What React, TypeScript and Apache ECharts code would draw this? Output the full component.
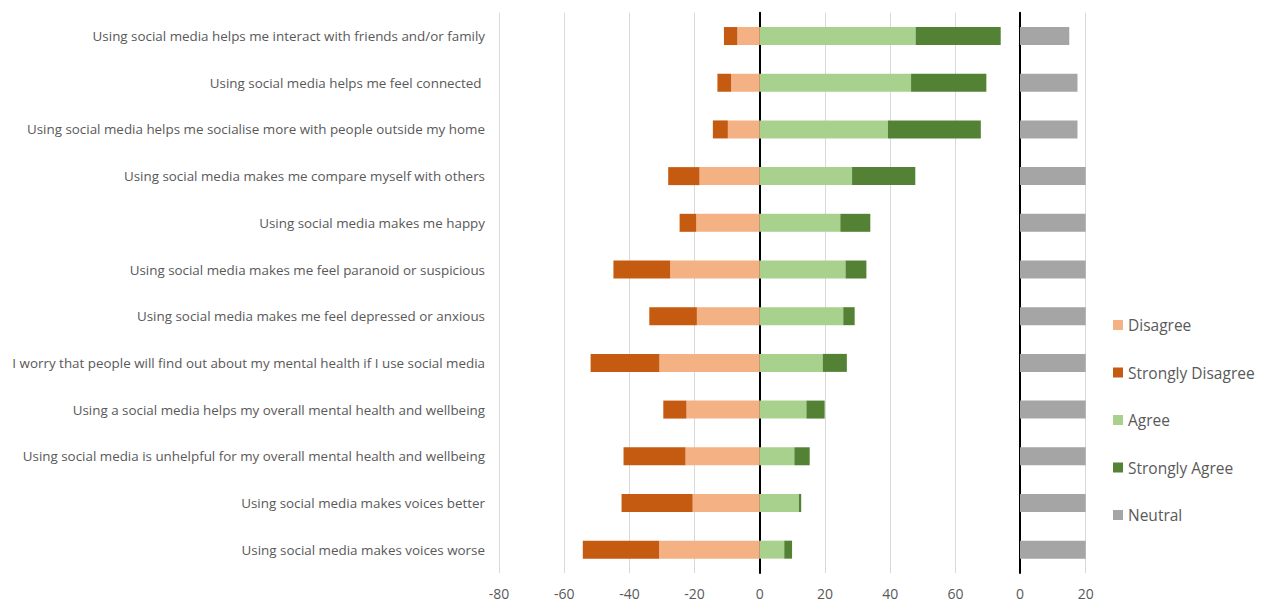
import React, { useEffect, useRef } from "react";
import * as echarts from "echarts";

const categories = [
  "Using social media helps me interact with friends and/or family",
  "Using social media helps me feel connected ",
  "Using social media helps me socialise more with people outside my home",
  "Using social media makes me compare myself with others",
  "Using social media makes me happy",
  "Using social media makes me feel paranoid or suspicious",
  "Using social media makes me feel depressed or anxious",
  "I worry that people will find out about my mental health if I use social media",
  "Using a social media helps my overall mental health and wellbeing",
  "Using social media is unhelpful for my overall mental health and wellbeing",
  "Using social media makes voices better",
  "Using social media makes voices worse",
];

const disagree = [-6.9, -8.8, -9.8, -18.5, -19.5, -27.5, -19.3, -30.8, -22.5, -22.8, -20.6, -30.9];
const stronglyDisagree = [-4.1, -4.2, -4.6, -9.6, -5.1, -17.4, -14.6, -21.1, -7.1, -19.0, -21.8, -23.4];
const agree = [47.8, 46.4, 39.3, 28.3, 24.7, 26.3, 25.6, 19.3, 14.3, 10.6, 12.0, 7.5];
const stronglyAgree = [26.1, 23.1, 28.5, 19.4, 9.2, 6.4, 3.5, 7.4, 5.6, 4.7, 0.7, 2.4];
const neutral = [15, 17.5, 17.5, 20, 20, 20, 20, 20, 20, 20, 20, 20];

const mainTicks = { min: -80, max: 80, interval: 20 };
const neutralTicks = { min: 0, max: 20, interval: 20 };

const COLORS = {
  disagree: "#F4B183",
  stronglyDisagree: "#C55A11",
  agree: "#A9D18E",
  stronglyAgree: "#548235",
  neutral: "#A5A5A5",
};

const FONT = "Open Sans";
const TEXT = "#595959";

export default function App() {
  const ref = useRef<HTMLDivElement>(null);
  useEffect(() => {
    if (!ref.current) return;
    const chart = echarts.init(ref.current, undefined, { renderer: "svg" });
    const gridTop = 12.7;
    const gridBottom = 32;
    const barW = 18;
    chart.setOption({
      animation: false,
      textStyle: { fontFamily: FONT, color: TEXT },
      grid: [
        { left: 499, right: 242.4, top: gridTop, bottom: gridBottom },
        { left: 1020, right: 177.3, top: gridTop, bottom: gridBottom },
      ],
      legend: {
        orient: "vertical",
        left: 1108,
        top: 312,
        itemWidth: 10,
        itemHeight: 10,
        itemGap: 31.5,
        icon: "rect",
        textStyle: { fontFamily: FONT, color: TEXT, fontSize: 15.5 },
        data: ["Disagree", "Strongly Disagree", "Agree", "Strongly Agree", "Neutral"],
      },
      xAxis: [
        {
          type: "value",
          gridIndex: 0,
          ...mainTicks,
          axisLine: { show: false },
          axisTick: { show: false },
          splitLine: { lineStyle: { color: "#D9D9D9", width: 1 } },
          axisLabel: {
            color: TEXT,
            fontSize: 14,
            fontFamily: FONT,
            margin: 13,
            showMaxLabel: false,
          },
        },
        {
          type: "value",
          gridIndex: 1,
          ...neutralTicks,
          axisLine: { show: false },
          axisTick: { show: false },
          splitLine: { lineStyle: { color: "#D9D9D9", width: 1 } },
          axisLabel: { color: TEXT, fontSize: 14, fontFamily: FONT, margin: 13 },
        },
      ],
      yAxis: [
        {
          type: "category",
          gridIndex: 0,
          data: categories,
          inverse: true,
          axisLine: { show: true, onZero: true, lineStyle: { color: "#000", width: 2 } },
          axisTick: { show: false },
          axisLabel: { color: TEXT, fontSize: 13.4, fontFamily: FONT, margin: 14 },
        },
        {
          type: "category",
          gridIndex: 1,
          data: categories,
          inverse: true,
          axisLine: { show: true, onZero: true, lineStyle: { color: "#000", width: 2 } },
          axisTick: { show: false },
          axisLabel: { show: false },
        },
      ],
      series: [
        {
          name: "Disagree",
          type: "bar",
          stack: "likert",
          barWidth: barW,
          xAxisIndex: 0,
          yAxisIndex: 0,
          itemStyle: { color: COLORS.disagree },
          data: disagree,
          z: 1,
        },
        {
          name: "Strongly Disagree",
          type: "bar",
          stack: "likert",
          barWidth: barW,
          xAxisIndex: 0,
          yAxisIndex: 0,
          itemStyle: { color: COLORS.stronglyDisagree },
          data: stronglyDisagree,
          z: 1,
        },
        {
          name: "Agree",
          type: "bar",
          stack: "likert",
          barWidth: barW,
          xAxisIndex: 0,
          yAxisIndex: 0,
          itemStyle: { color: COLORS.agree },
          data: agree,
          z: 1,
        },
        {
          name: "Strongly Agree",
          type: "bar",
          stack: "likert",
          barWidth: barW,
          xAxisIndex: 0,
          yAxisIndex: 0,
          itemStyle: { color: COLORS.stronglyAgree },
          data: stronglyAgree,
          z: 1,
        },
        {
          name: "Neutral",
          type: "bar",
          barWidth: barW,
          xAxisIndex: 1,
          yAxisIndex: 1,
          itemStyle: { color: COLORS.neutral },
          data: neutral,
          z: 1,
        },
      ],
    });
    return () => chart.dispose();
  }, []);
  return (
    <div
      ref={ref}
      style={{ position: "fixed", left: 0, top: 0, width: 1263, height: 605, background: "#fff" }}
    />
  );
}
